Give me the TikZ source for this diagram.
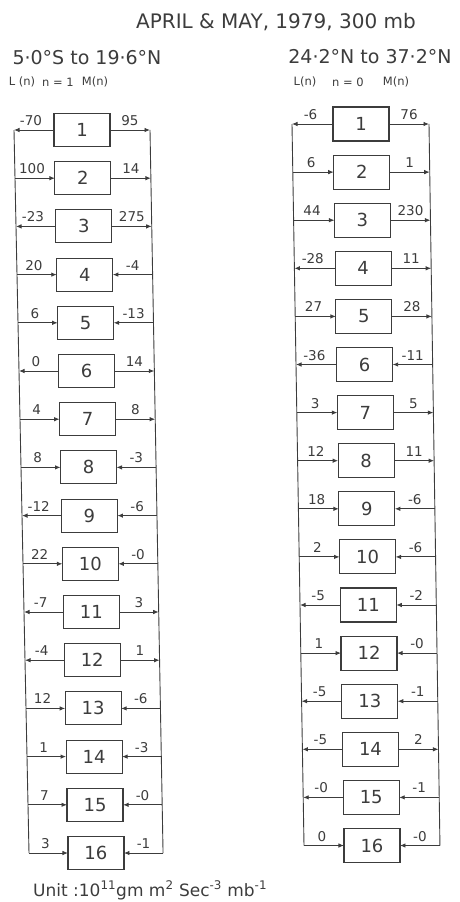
\documentclass[tikz,border=0pt]{standalone}
\usepackage{fontspec}
\setmainfont{DejaVu Sans}
\usetikzlibrary{arrows.meta}
\definecolor{ink}{HTML}{3C3C3C}
\begin{document}
\begin{tikzpicture}[x=1pt,y=-1pt,color=ink,
  wire/.style={line width=0.9pt},
  numbox/.style={draw,line width=1.1pt,minimum width=56pt,minimum height=33pt,inner sep=0pt,outer sep=0pt,font=\fontsize{18}{18}\selectfont},
  lab/.style={font=\fontsize{13.5}{14}\selectfont,inner sep=0pt,anchor=base},
  head/.style={font=\fontsize{11.5}{12}\selectfont,inner sep=0pt},
  sub/.style={font=\fontsize{19}{20}\selectfont,inner sep=0pt},
  Lin/.style={-{Latex[length=5.5pt,width=4.5pt]}},
  Lout/.style={{Latex[length=5.5pt,width=4.5pt]}-},
  Rout/.style={-{Latex[length=5.5pt,width=4.5pt]}},
  Rin/.style={{Latex[length=5.5pt,width=4.5pt]}-}]
\useasboundingbox (0,0) rectangle (459,902);

% titles
\node[font=\fontsize{20}{21}\selectfont,inner sep=0pt] (title) at (276,22) {APRIL \& MAY, 1979, 300 mb};
\node[sub] (s1) at (87,58) {5·0°S to 19·6°N};
\node[sub] (s2) at (370,57) {24·2°N to 37·2°N};
\node[head] (h1) at (22,82) {L (n)};
\node[head] (h2) at (58,82) {n = 1};
\node[head] (h3) at (95,82) {M(n)};
\node[head] (h4) at (305,82) {L(n)};
\node[head] (h5) at (348,82) {n = 0};
\node[head] (h6) at (396,82) {M(n)};

% left ladder
\foreach \i/\lv/\ld/\mv/\md in {
 1/-70/Lout/95/Rout, 2/100/Lin/14/Rout, 3/-23/Lout/275/Rout, 4/20/Lin/-4/Rin,
 5/6/Lin/-13/Rin, 6/0/Lout/14/Rout, 7/4/Lin/8/Rout, 8/8/Lin/-3/Rin,
 9/-12/Lout/-6/Rin, 10/22/Lin/-0/Rin, 11/-7/Lout/3/Rout, 12/-4/Lout/1/Rout,
 13/12/Lin/-6/Rin, 14/1/Lin/-3/Rin, 15/7/Lin/-0/Rin, 16/3/Lin/-1/Rin}{
  \pgfmathsetmacro\yy{130+48.2*(\i-1)}
  \pgfmathsetmacro\xl{14+1.0*(\i-1)}
  \pgfmathsetmacro\bx{54+0.93*(\i-1)}
  \pgfmathsetmacro\xr{150+0.87*(\i-1)}
  \coordinate (aL\i) at (\xl,\yy);
  \coordinate (aR\i) at (\xr,\yy);
  \node[numbox,anchor=west] (a\i) at (\bx,\yy) {\i};
  \draw[wire,\ld] (aL\i) -- (a\i.west);
  \draw[wire,\md] (a\i.east) -- (aR\i);
  \node[lab] (aLt\i) at ({(\xl+\bx)/2-3},\yy-4.5) {\lv};
  \node[lab] (aMt\i) at ({(\bx+56+\xr)/2},\yy-4.5) {\mv};
}
\draw[wire] (aL1) -- (aL16);
\draw[wire] (aR1) -- (aR16);

% right ladder
\foreach \i/\lv/\ld/\mv/\md in {
 1/-6/Lout/76/Rout, 2/6/Lin/1/Rout, 3/44/Lin/230/Rout, 4/-28/Lout/11/Rout,
 5/27/Lin/28/Rout, 6/-36/Lout/-11/Rin, 7/3/Lin/5/Rout, 8/12/Lin/11/Rout,
 9/18/Lin/-6/Rin, 10/2/Lin/-6/Rin, 11/-5/Lout/-2/Rin, 12/1/Lin/-0/Rin,
 13/-5/Lout/-1/Rin, 14/-5/Lout/2/Rout, 15/-0/Lout/-1/Rin, 16/0/Lin/-0/Rin}{
  \pgfmathsetmacro\yy{124+48.1*(\i-1)}
  \pgfmathsetmacro\xl{292+0.8*(\i-1)}
  \pgfmathsetmacro\bx{333+0.73*(\i-1)}
  \pgfmathsetmacro\xr{429+0.73*(\i-1)}
  \coordinate (bL\i) at (\xl,\yy);
  \coordinate (bR\i) at (\xr,\yy);
  \node[numbox,anchor=west,minimum height=34pt] (b\i) at (\bx,\yy) {\i};
  \draw[wire,\ld] (bL\i) -- (b\i.west);
  \draw[wire,\md] (b\i.east) -- (bR\i);
  \node[lab] (bLt\i) at ({(\xl+\bx)/2-2},\yy-4.5) {\lv};
  \node[lab] (bMt\i) at ({(\bx+56+\xr)/2},\yy-4.5) {\mv};
}
\draw[wire] (bL1) -- (bL16);
\draw[wire] (bR1) -- (bR16);

% unit
\node[font=\fontsize{17}{18}\selectfont,inner sep=0pt,anchor=base west] (unit) at (33,896)
  {Unit :10\textsuperscript{11}gm m\textsuperscript{2} Sec\textsuperscript{-3} mb\textsuperscript{-1}};
\end{tikzpicture}
\end{document}
